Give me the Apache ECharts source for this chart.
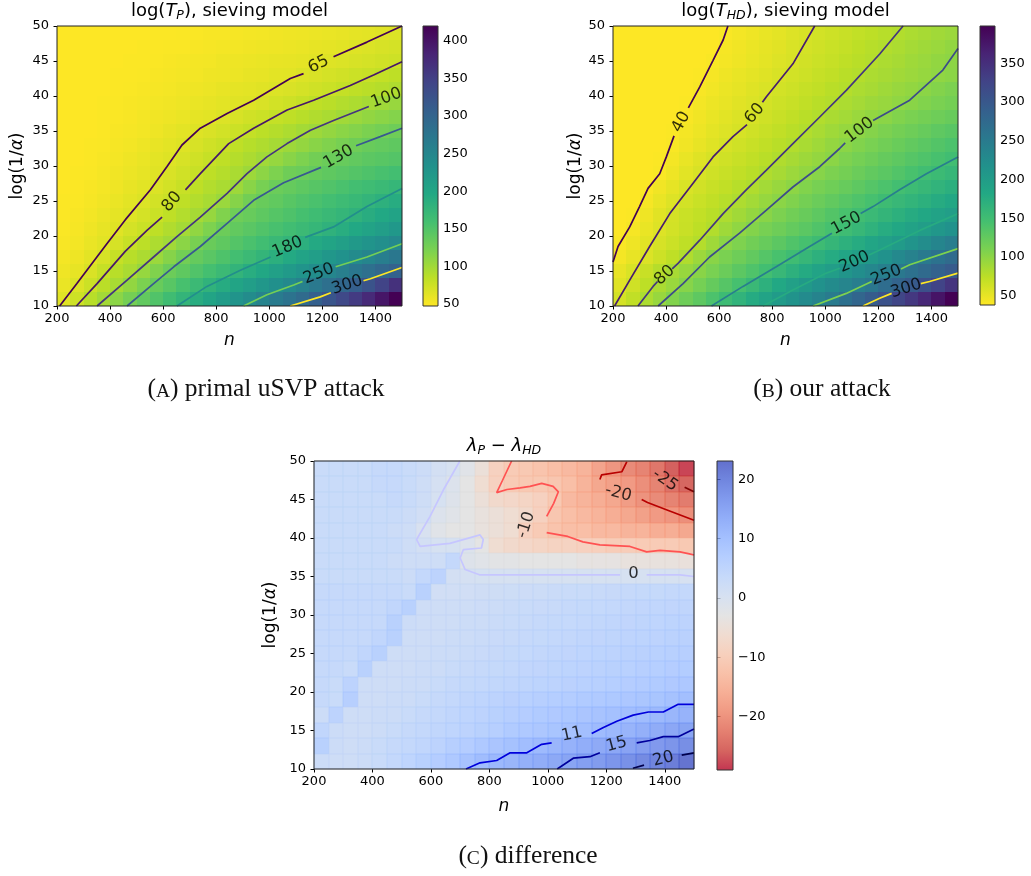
<!DOCTYPE html>
<html><head><meta charset="utf-8">
<script src="https://cdn.jsdelivr.net/npm/echarts@6/dist/echarts.min.js"></script>
<style>html,body{margin:0;padding:0;background:#fff}#c{width:1031px;height:876px}</style>
</head><body><div id="c"></div>
<script>
// ---------------- data ----------------
const nEdges = [200,250,300,350,400,450,500,550,600,650,700,750,800,850,900,950,1000,1050,1100,1150,1200,1250,1300,1350,1400,1450];
const yEdges = [48,46,44,42,40,38,36,34,32,30,28,26,24,22,20,18,16,14,12,10]; // top row first
const xTicks = [200,400,600,800,1000,1200,1400];
const yTicks = [10,15,20,25,30,35,40,45,50];
const cbTicksA = [50,100,150,200,250,300,350,400];
const cbTicksB = [50,100,150,200,250,300,350];
const cbTicksC = [-20,-10,0,10,20];
const rangeA = [47,420], rangeB = [38,398], rangeC = [-29,23.1];

const valuesA = [
[47,47,47,47,47,47,47,48,48,49,49,50,50,51,52,53,54,55,56,57,58,59,61,62,64,66],
[47,47,47,47,47,47,48,48,49,49,50,51,52,53,54,55,56,57,58,60,61,63,65,67,69,71],
[47,47,47,47,47,48,48,49,50,51,52,53,55,56,57,58,59,60,61,63,65,67,69,71,73,75],
[47,47,47,47,48,48,49,50,51,52,53,55,56,57,59,60,62,63,66,68,71,73,76,78,81,84],
[47,47,47,47,48,49,50,51,52,54,55,57,59,61,62,64,66,68,71,74,77,80,83,86,89,92],
[47,47,47,48,49,50,51,53,54,56,58,60,62,64,65,68,72,75,79,83,86,90,93,97,101,105],
[47,47,47,48,49,50,52,54,56,58,61,63,66,69,73,76,80,83,87,91,95,100,104,108,112,116],
[47,47,47,48,50,51,53,56,59,62,65,68,72,76,80,85,89,93,98,102,107,112,116,121,126,130],
[47,47,48,49,51,53,56,59,62,65,69,74,78,83,88,92,97,102,107,113,118,124,129,134,137,140],
[47,47,48,50,52,55,58,62,65,69,74,79,83,89,94,100,106,113,120,127,132,135,138,142,145,148],
[47,48,49,51,54,57,60,64,68,73,78,84,89,95,102,111,120,129,132,136,140,144,148,152,156,160],
[47,48,50,52,55,59,63,67,72,78,84,90,95,102,113,124,132,136,141,146,150,155,160,164,169,174],
[48,49,51,54,58,62,66,72,77,83,90,96,104,115,127,134,139,145,150,155,160,166,171,177,183,190],
[48,50,53,57,61,65,71,77,83,90,97,106,118,130,135,141,147,152,158,164,170,175,181,189,197,205],
[49,51,55,60,64,71,77,84,91,98,109,120,131,138,144,150,156,162,168,174,181,188,196,204,213,222],
[50,53,58,63,70,78,85,93,100,112,123,133,140,148,155,162,170,177,185,194,203,211,220,228,237,246],
[52,56,62,70,79,87,94,103,115,127,136,144,152,160,168,176,185,194,204,213,223,232,242,251,262,272],
[55,60,68,79,87,95,106,118,131,140,150,159,168,178,188,198,209,219,229,239,250,261,272,283,294,303],
[58,66,76,86,96,108,121,134,145,157,168,180,191,202,213,224,235,246,258,270,283,296,308,325,345,368],
[64,75,87,99,112,125,138,150,163,176,189,202,215,228,241,254,266,278,290,306,322,338,356,376,398,420]
];

const valuesB = [
[38,38,38,38,38,38,38,38,40,43,46,49,52,56,59,62,65,68,71,74,77,80,83,86,89,92],
[38,38,38,38,38,38,38,38,42,45,48,51,54,58,61,64,67,70,74,77,80,83,87,90,93,97],
[38,38,38,38,38,38,38,40,43,46,49,52,56,59,63,66,69,73,76,79,83,86,90,93,97,100],
[38,38,38,38,38,38,39,42,46,49,52,55,59,62,65,69,72,76,79,83,86,89,92,95,98,101],
[38,38,38,38,38,38,41,44,48,51,55,58,62,65,69,72,76,79,83,86,90,94,97,101,105,109],
[38,38,38,38,38,39,43,47,50,54,57,61,65,68,72,76,79,83,87,91,94,98,102,106,110,114],
[38,38,38,38,38,41,45,49,53,57,60,64,68,72,76,80,84,88,93,97,101,106,110,114,118,122],
[38,38,38,38,39,43,47,52,56,60,64,68,72,76,80,85,90,95,100,104,109,114,118,123,128,132],
[38,38,38,38,40,45,50,55,60,64,68,72,76,80,85,90,96,101,106,111,116,121,126,131,136,141],
[38,38,38,39,43,49,55,60,64,68,72,76,81,86,91,96,101,108,113,118,124,129,134,139,144,149],
[38,38,38,40,46,53,59,64,68,72,76,81,86,92,97,103,109,114,120,126,131,137,143,149,154,160],
[38,38,39,45,51,58,63,68,72,77,81,88,94,100,106,112,117,123,129,135,141,147,153,159,165,171],
[38,38,42,49,56,62,67,72,77,82,88,95,101,107,114,120,126,133,139,145,152,158,164,170,177,183],
[38,39,46,54,61,67,71,76,82,89,96,102,109,116,122,129,136,143,149,156,163,170,177,184,191,198],
[38,42,49,56,62,68,74,80,90,98,105,112,118,125,131,138,145,151,159,167,176,184,192,200,209,217],
[40,46,53,60,66,73,79,90,101,108,116,123,130,138,145,152,161,169,177,186,194,203,213,224,235,245],
[43,50,57,65,73,81,92,102,110,118,126,135,143,151,160,169,178,187,196,206,217,229,240,251,262,273],
[50,58,68,78,86,94,102,111,120,130,139,148,158,169,179,190,200,211,222,233,244,254,264,274,285,295],
[55,64,74,84,93,103,113,124,134,145,157,169,182,194,206,216,226,236,246,256,270,283,296,310,326,344],
[61,72,83,94,106,118,129,141,153,165,178,190,203,215,227,238,250,265,280,294,308,324,340,358,378,398]
];

const valuesC = [
[3,3,3,3,3.5,3.5,3,2.5,1,0.3,-2,-5,-9,-10.5,-11,-12,-13,-14,-15,-17.5,-19.5,-21,-22,-23.5,-26,-28],
[3,3,3,3,3.5,3.5,3,2,0.5,-1,-3,-6,-9,-10.5,-11,-11,-11.5,-13,-15,-17,-18,-19,-20.5,-22,-24,-25.5],
[3,3,3,3,3,3.5,3,2,0.3,-1.5,-3,-5,-7,-7.5,-8,-9,-11,-14,-15,-16,-17,-18.5,-20,-21,-22,-23],
[3,3,3,3,3,3,2.5,1.5,-1,-2,-3,-4,-5,-6,-7,-9,-11.5,-13,-14,-15,-16,-17,-18,-19,-19.5,-20.5],
[3,3,3,3,3,2.5,2,0,-2,-3,-3,-4,-5,-6,-9,-10.5,-12,-13,-13,-14,-14,-15,-15,-16,-16,-17],
[3,3,3,3,3,3,2,1,0.3,0.3,-1,-3,-6,-7,-7.5,-8,-8.5,-8.5,-9,-9.5,-10,-10,-10.5,-10.5,-10.5,-11],
[3,3,3,3,3,2.5,2,2,2,4,-1.5,-2,-2.5,-2.5,-3,-3,-3,-3,-3.5,-3.5,-3.5,-4,-4,-4,-4,-4.5],
[3,3,3,3,3,3,2.5,4,5.5,1,0.6,0.4,0.3,0.3,0.3,0.3,0.3,0.3,0.3,0.3,0.3,0.3,0.3,0.3,0.3,0.2],
[3.5,3.5,3.5,3.5,3.5,3.5,3,6,1.5,1.5,1.5,1.7,1.9,2.1,2.3,2.5,2.7,2.9,3,3.2,3.4,3.5,3.7,3.8,4,4.1],
[3.5,3.5,3.5,3.5,3.5,4.5,6,2,2,2,2,2.3,2.5,2.7,2.9,3.1,3.3,3.5,3.7,3.9,4,4.2,4.4,4.5,4.7,4.8],
[3.5,3.5,3.5,3.5,3.5,6,2.5,2,2,2,2.5,2.5,2.8,3,3.2,3.5,3.7,3.9,4.1,4.3,4.5,4.7,4.9,5,5.2,5.4],
[3.5,3.5,3.5,3.5,4.5,6,2,2,2,2.5,2.5,2.8,3.1,3.3,3.5,3.8,4,4.2,4.5,4.7,4.9,5.1,5.3,5.5,5.7,5.9],
[3.5,3.5,3.5,4.5,6,2,2,2,2.5,2.5,2.8,3.1,3.4,3.7,3.9,4.2,4.5,4.7,5,5.2,5.5,5.7,5.9,6.1,6.3,6.5],
[3.5,3.5,3,6,2,2,2,2.5,2.5,3,3.3,3.5,3.8,4.1,4.4,4.7,4.9,5.2,5.5,5.7,6,6.2,6.5,6.7,7,7.2],
[3.5,3,5.5,2,2,2,2.5,2.5,3,3.5,3.7,4,4.3,4.6,4.9,5.2,5.5,5.8,6.1,6.4,6.7,7,7.3,7.6,7.9,8.2],
[3.5,3,6.5,2,2,2.5,2.5,3,3.5,4,4.5,5,5.5,5.8,6.1,6.5,6.8,7.1,7.5,7.8,8.1,8.4,8.7,9,9.6,10.2],
[2.5,5.5,2,2,2.5,2.5,3,3.5,4,4.5,5,5.5,6,6.5,7,7.5,7.9,8.3,8.8,9.3,9.8,10.3,10.8,11.3,11.8,12.5],
[4.5,2.5,2,2,2.5,3,3.5,4,4.5,5,5.5,6,6.5,7.5,8,8.5,9,9.5,10.2,10.9,11.6,12.3,13,13.8,14.5,15],
[6,2.5,2,2.5,3,3.5,4,4.5,5.5,6.5,7,8,8.8,9.6,10.3,11.1,11.9,12.6,13.3,14,14.6,15.2,16,16.8,17.5,18.5],
[2.5,2,2,2.5,3,4,5,6,7,8,9.3,10.6,11.5,12.2,13,13.6,14.3,15,15.8,16.5,17.3,18.2,19.1,20,21,22.5]
];

// contour lines: [level, segments, label [x, y, rotation]]
const contoursA = [
 [65, [[[210,10],[275,13.2],[388,18.9],[457,22.3],[552,26.6],[614,29.9],[671,33],[740,35.4],[841,37.5],[941,39.4],[1079,42.5],[1129,43.2]], [[1242,45.6],[1368,47.7],[1500,50]]], [1186,44.5,27]],
 [80, [[[273,10],[351,13.2],[457,17.8],[539,20.8],[596,22.7]], [[684,26.6],[740,28.9],[847,33.2],[941,35.4],[1067,38],[1167,39.4],[1305,41.5],[1393,43],[1500,44.9]]], [633,24.9,50]],
 [100, [[[351,10],[464,13.7],[564,17],[652,19.9],[740,22.7],[841,26.1],[916,28.9],[991,31.3],[1067,33.2],[1155,35.1],[1242,36.5],[1375,38.5]]], [1441,39.7,20]],
 [130, [[[464,10],[564,13.2],[640,15.6],[740,18.5],[841,21.8],[941,25.1],[1054,27.6],[1195,29.8]], [[1327,32.9],[1418,34.2],[1500,35.4]]], [1261,31.3,30]],
 [180, [[[652,10],[765,12.8],[891,15.1],[1005,17]], [[1135,19.8],[1242,21.3],[1368,24.2],[1500,26.8]]], [1069,18.4,23]],
 [250, [[[903,10],[991,11.6],[1092,13],[1125,13.5]], [[1250,15.6],[1368,17],[1500,18.9]]], [1186,14.6,22]],
 [300, [[[1079,10],[1192,11.3],[1232,11.9]], [[1355,13.6],[1381,13.9],[1500,15.5]]], [1293,13,18]]
];
const contoursB = [
 [40, [[[200,16.3],[219,18.5],[263,21.3],[300,24.2],[332,26.8],[376,28.9],[401,31.3],[430,34.3]], [[484,38.3],[527,41.3],[577,45.1],[615,48],[633,50]]], [457,36.3,62]],
 [60, [[[206,10],[263,13.7],[338,18.5],[414,23.2],[501,27.5],[577,31.3],[652,34.2],[705,35.9]], [[763,39.1],[778,39.9],[878,44.6],[960,50]]], [734,37.5,50]],
 [80, [[[294,10],[351,12.8],[368,13.5]], [[423,15.3],[445,16.1],[527,19.4],[615,23.2],[702,26.6],[778,29.4],[878,33.2],[979,37],[1079,40.8],[1205,46],[1293,50]]], [395,14.4,42]],
 [100, [[[370,10],[464,13.2],[564,17],[677,20.4],[778,23.7],[878,27],[979,29.9],[1054,32.5],[1075,33.3]], [[1180,36.5],[1318,39.4],[1443,43.7],[1500,46.8]]], [1129,35.1,37]],
 [150, [[[571,10],[690,12.8],[815,15.6],[941,18.5],[1025,20.4]], [[1133,23.2],[1180,24.2],[1280,26.6],[1381,28.9],[1500,31.3]]], [1079,21.8,28]],
 [200, [[[765,10],[878,12.3],[1004,14.7],[1055,15.4]], [[1165,17.3],[1205,18],[1356,20.8],[1500,23.2]]], [1110,16.3,24]],
 [250, [[[954,10],[1079,11.8],[1175,13.5]], [[1285,15.3],[1318,15.9],[1500,18.2]]], [1230,14.4,22]],
 [300, [[[1142,10],[1205,11.1],[1250,11.8]], [[1360,13.2],[1393,13.5],[1500,14.7]]], [1305,12.5,18]]
];
const contoursC = [
 [-25, [[[1468,46.6],[1500,46]]], [1401,47.5,-35]],
 [-20, [[[1270,49.9],[1253,48.6],[1184,48.2],[1178,47.6]], [[1321,45],[1341,44.6],[1410,43.6],[1500,42.3]]], [1241,45.8,-15]],
 [-10, [[[876,50],[845,47.5],[825,45.9],[860,46.3],[905,46.5],[939,46.7],[979,47.1],[1018,46.7],[1036,46],[1020,44.5],[996,42.8]], [[996,40.7],[1068,40.2],[1120,39.5],[1178,39.1],[1281,38.9],[1338,38.2],[1384,38.4],[1452,38.2],[1500,37.8]]], [925,41.7,72]],
 [0, [[[699,50],[642,46.2],[597,42.8],[551,39.8],[563,38.9],[665,39.3],[768,40.4],[779,39.8],[773,38.7],[711,38.5],[700,37.4],[717,35.9],[768,35.2],[1247,35.2]], [[1338,35.2],[1452,35.2],[1500,35]]], [1293,35.3,0]],
 [11, [[[720,10],[768,10.8],[825,11.1],[871,12.1],[928,12.1],[979,13.2],[1013,13.4]], [[1150,14.6],[1190,15.4],[1236,16.2],[1292,17],[1344,17.4],[1395,17.4],[1446,18.4],[1500,18.4]]], [1082,14.5,12]],
 [15, [[[1032,10],[1087,11.4],[1144,11.6],[1178,12.1]], [[1304,13.4],[1349,13.7],[1395,14.2],[1446,14.2],[1500,15.2]]], [1235,13.2,15]],
 [20, [[[1291,10.1],[1329,10.5]], [[1458,11.8],[1500,12.1]]], [1395,11.3,15]]
];

// ---------------- style ----------------
const FONT = 'DejaVu Sans';
const VIRIDIS = ['#440154','#482475','#414487','#355f8d','#2a788e','#21918c','#22a884','#44bf70','#7ad151','#bddf26','#fde725'];
const COOLWARM = ['#3b4cc0','#4d68d7','#6282ea','#779af7','#8db0fe','#a3c2ff','#b8d0f9','#ccd9ee','#dddddd','#ecd3c5','#f5c4ac','#f7b193','#f49a7b','#ec7f63','#de604d','#cb3e38','#b40426'];
const lineColorsA = {65:'#440154',80:'#471769',100:'#45347e',130:'#385990',180:'#228e8c',250:'#73cf55',300:'#fde725'};
const lineColorsB = {40:'#440154',60:'#471c6f',80:'#44357f',100:'#3d4c89',150:'#287e8e',200:'#27ab81',250:'#7dd24e',300:'#fde725'};
const lineColorsC = {'-25':'#800000','-20':'#b80000','-10':'#ff5252','0':'#c6c6ff','11':'#0000db','15':'#00009c','20':'#00004d'};

const panels = [
 {plot:{left:57,top:26,width:345,height:280}, cb:{left:423,top:26,width:15,height:280},
  rows:valuesA, range:rangeA, cbTicks:cbTicksA, cmapLow2High:VIRIDIS.slice().reverse(), cbTop2Bottom:VIRIDIS, alpha:1, edge:0,
  contours:contoursA, colors:lineColorsA, yNameGap:31, xNameGap:26},
 {plot:{left:613,top:26,width:345,height:280}, cb:{left:980,top:26,width:15,height:279},
  rows:valuesB, range:rangeB, cbTicks:cbTicksB, cmapLow2High:VIRIDIS.slice().reverse(), cbTop2Bottom:VIRIDIS, alpha:1, edge:0,
  contours:contoursB, colors:lineColorsB, yNameGap:29, xNameGap:26},
 {plot:{left:314,top:461,width:380,height:308}, cb:{left:717,top:461,width:16,height:309},
  rows:valuesC, range:rangeC, cbTicks:cbTicksC, cmapLow2High:COOLWARM.slice().reverse(), cbTop2Bottom:COOLWARM, alpha:0.8, edge:0.6,
  contours:contoursC, colors:lineColorsC, yNameGap:35, xNameGap:29}
];

const CELL_W = nEdges[1] - nEdges[0];
const CELL_H = yEdges[0] - yEdges[1];

function cellRenderer(alpha, edge) {
  return function (params, api) {
    const x0 = api.value(0), y0 = api.value(1);
    const a = api.coord([x0, y0 + CELL_H]);
    const b = api.coord([x0 + CELL_W, y0]);
    const x = Math.round(a[0]), y = Math.round(a[1]);
    const col = api.visual('color');
    const style = {fill: col, opacity: alpha};
    if (edge > 0) { style.stroke = col; style.lineWidth = edge; }
    return {type:'rect', shape:{x:x, y:y, width:Math.round(b[0]) - x, height:Math.round(b[1]) - y}, style:style};
  };
}
function cbRenderer(stops, alpha) {
  return function (params, api) {
    const a = api.coord([0, api.value(2)]);
    const b = api.coord([1, api.value(1)]);
    const grad = new echarts.graphic.LinearGradient(0, 0, 0, 1,
      stops.map((c, i) => ({offset: i / (stops.length - 1), color: c})));
    return {type:'rect', shape:{x:a[0], y:a[1], width:b[0]-a[0], height:b[1]-a[1]}, style:{fill: grad, opacity: alpha}};
  };
}
const minusFmt = v => v < 0 ? '\u2212' + Math.abs(v) : String(v);
const plainFmt = v => String(v);

const grids = [], xAxes = [], yAxes = [], series = [], visualMaps = [];
const tickStyle = {length:3.5, lineStyle:{color:'#000', width:1}};
const labelStyle = {color:'#000', fontSize:13, fontFamily:FONT};

panels.forEach((p, i) => {
  const gp = 2 * i, gc = 2 * i + 1;
  grids.push(Object.assign({show:true, borderColor:'#222', borderWidth:1, backgroundColor:'transparent', z:10}, p.plot));
  grids.push(Object.assign({show:true, borderColor:'#333', borderWidth:1, backgroundColor:'transparent', z:10}, p.cb));
  xAxes.push({gridIndex:gp, type:'value', min:200, max:1500, name:'n', nameLocation:'middle', nameGap:p.xNameGap,
    nameTextStyle:{fontSize:17, fontStyle:'italic', color:'#000', fontFamily:FONT},
    axisLine:{show:false}, splitLine:{show:false},
    axisTick:Object.assign({show:true, customValues:xTicks}, tickStyle),
    axisLabel:Object.assign({customValues:xTicks, margin:6, formatter:plainFmt}, labelStyle)});
  xAxes.push({gridIndex:gc, type:'value', min:0, max:1, show:false});
  yAxes.push({gridIndex:gp, type:'value', min:10, max:50, name:'log(1/{a|α})', nameLocation:'middle', nameGap:p.yNameGap,
    nameTextStyle:{fontSize:17, color:'#000', fontFamily:FONT, rich:{a:{fontSize:17, fontStyle:'italic', fontFamily:FONT, color:'#000'}}},
    axisLine:{show:false}, splitLine:{show:false},
    axisTick:Object.assign({show:true, customValues:yTicks}, tickStyle),
    axisLabel:Object.assign({customValues:yTicks, margin:8, formatter:plainFmt}, labelStyle)});
  yAxes.push({gridIndex:gc, type:'value', min:p.range[0], max:p.range[1], position:'right',
    axisLine:{show:false}, splitLine:{show:false},
    axisTick:Object.assign({show:true, customValues:p.cbTicks}, tickStyle),
    axisLabel:Object.assign({customValues:p.cbTicks, margin:5, formatter:minusFmt}, labelStyle)});

  const cells = [];
  p.rows.forEach((row, r) => row.forEach((v, c) => cells.push([nEdges[c], yEdges[r], v])));
  visualMaps.push({type:'continuous', show:false, seriesIndex:series.length, dimension:2,
    min:p.range[0], max:p.range[1], inRange:{color:p.cmapLow2High}});
  series.push({type:'custom', xAxisIndex:gp, yAxisIndex:gp, data:cells, encode:{x:0, y:1},
    renderItem:cellRenderer(p.alpha, p.edge), silent:true, z:1, animation:false});
  series.push({type:'custom', xAxisIndex:gc, yAxisIndex:gc, data:[[0, p.range[0], p.range[1]]], encode:{x:0, y:[1,2]},
    renderItem:cbRenderer(p.cbTop2Bottom, p.alpha), silent:true, z:1, animation:false});

  const labels = [];
  p.contours.forEach(([lvl, segs, lab]) => {
    segs.forEach(seg => series.push({type:'line', xAxisIndex:gp, yAxisIndex:gp, data:seg, symbol:'none',
      lineStyle:{color:p.colors[lvl], width:1.7}, silent:true, z:3, animation:false}));
    labels.push({value:[lab[0], lab[1]], name:String(lvl), label:{rotate:lab[2]}});
  });
  series.push({type:'scatter', xAxisIndex:gp, yAxisIndex:gp, data:labels, symbolSize:0, silent:true, z:4,
    label:{show:true, position:'inside', formatter:'{b}', color:'#000', fontSize:16.5, fontFamily:FONT}, animation:false});
});

const titleStyle = {fontFamily:FONT, fontSize:18, fontWeight:'normal', color:'#000', lineHeight:21,
  rich:{i:{fontFamily:FONT, fontSize:18, fontStyle:'italic', color:'#000', lineHeight:21},
        s:{fontFamily:FONT, fontSize:12.5, fontStyle:'italic', color:'#000', lineHeight:9, verticalAlign:'bottom'}}};
const capStyle = {fontFamily:'Liberation Serif', fontSize:25.5, fontWeight:'normal', color:'#111', lineHeight:27,
  rich:{sc:{fontFamily:'Liberation Serif', fontSize:19.5, color:'#111', lineHeight:27, verticalAlign:'bottom', padding:[0,0,1,0]}}};

const option = {
  animation:false, backgroundColor:'#fff',
  title:[
    {text:'log({i|T}{s|P}), sieving model', left:229.5, top:1, textAlign:'center', padding:0, textStyle:titleStyle},
    {text:'log({i|T}{s|HD}), sieving model', left:785.5, top:1, textAlign:'center', padding:0, textStyle:titleStyle},
    {text:'{i|λ}{s|P} − {i|λ}{s|HD}', left:504, top:436, textAlign:'center', padding:0, textStyle:titleStyle},
    {text:'({sc|A}) primal uSVP attack', left:266, top:376, textAlign:'center', padding:0, textStyle:capStyle},
    {text:'({sc|B}) our attack', left:822, top:376, textAlign:'center', padding:0, textStyle:capStyle},
    {text:'({sc|C}) difference', left:528, top:843, textAlign:'center', padding:0, textStyle:capStyle}
  ],
  grid:grids, xAxis:xAxes, yAxis:yAxes, visualMap:visualMaps, series:series
};
const chart = echarts.init(document.getElementById('c'), null, {renderer:'canvas'});
chart.setOption(option);
</script>
</body></html>
